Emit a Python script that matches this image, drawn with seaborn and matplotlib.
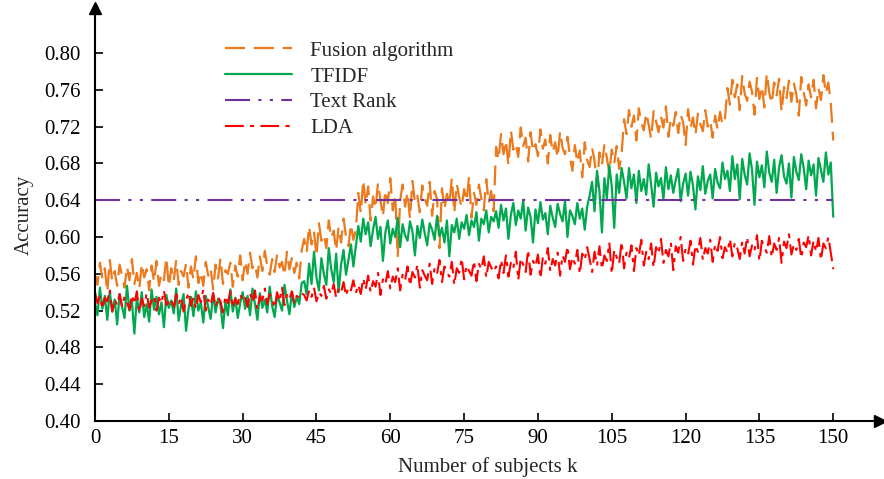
import numpy as np
import pandas as pd
import matplotlib
matplotlib.use("Agg")
import matplotlib.pyplot as plt
import seaborn as sns

# x positions: 0, 0.5, ..., 150 (number of subjects k)
k_values = [i / 2 for i in range(301)]

# accuracy values in thousandths
fusion_milli = [
    560, 548, 572, 555, 566, 540, 575, 552, 563, 547, 570, 558, 545, 568, 553, 576, 549, 561, 544, 571, 556, 565, 542, 569, 551, 574, 547, 560, 553, 578, 546,
    566, 552, 575, 548, 563, 557, 571, 545, 568, 554, 579, 550, 562, 547, 573, 558, 566, 543, 570, 555, 577, 549, 564, 560, 572, 546, 569, 557, 580, 553,
    574, 560, 583, 566, 571, 556, 579, 563, 585, 568, 559, 576, 562, 581, 567, 573, 558, 584, 565, 577, 561, 572, 555, 586,
    598, 583, 612, 592, 606, 579, 615, 596, 603, 588, 618, 599, 607, 585, 611, 594, 620, 601, 590, 614, 597, 608,
    648, 626, 662, 635, 655, 618, 644, 631, 659, 640, 622, 651, 637, 664, 629, 646, 578, 640, 657, 633, 649, 620, 661, 638, 645, 627, 656, 642, 634, 660, 623, 650, 641, 588, 653, 630, 647, 636, 664, 626, 658, 643, 632, 652, 639, 666, 621, 648, 635, 657, 642, 629, 663, 637, 650, 628,
    698, 684, 712, 690, 705, 678, 716, 695, 702, 687, 719, 699, 708, 682, 714, 693, 701, 688, 717, 696, 706, 680, 711, 692, 703, 686, 715, 697, 690, 709,
    688, 672, 700, 681, 694, 665, 703, 684, 676, 697, 683, 655, 692, 678, 701, 686, 670, 695, 680, 699, 674, 690,
    728, 712, 738, 720, 732, 705, 740, 724, 716, 735, 722, 707, 737, 726, 714, 731, 719, 742, 709, 729, 721, 736, 713, 733, 725, 700, 739, 718, 730, 711, 734, 723, 715, 738, 720, 727, 708, 732, 717, 736, 722, 729,
    762, 744, 771, 752, 766, 738, 775, 756, 748, 769, 758, 733, 773, 750, 764, 741, 778, 757, 745, 768, 754, 772, 736, 763, 751, 770, 747, 767, 755, 732, 774, 758, 743, 766, 752, 771, 740, 762, 749, 776, 756, 768, 745, 705,
]

tfidf_milli = [
    528, 515, 545, 522, 536, 510, 541, 519, 532, 505, 538, 524, 512, 547, 520, 530, 495, 534, 518, 540, 513, 527, 508, 543, 521, 535, 516, 529, 502, 537, 523,
    531, 517, 544, 509, 526, 538, 498, 522, 535, 514, 541, 520, 529, 507, 536, 524, 511, 539, 518, 533, 526, 501, 530, 515, 543, 519, 534, 512, 528, 540,
    522, 536, 515, 544, 527, 510, 539, 523, 532, 518, 546, 525, 513, 537, 529, 520, 548, 531, 516, 540, 524, 535, 527, 550,
    552, 538, 571, 549, 584, 556, 542, 577, 560, 548, 588, 565, 551, 582, 540, 570, 586, 559, 575, 592, 568, 590,
    612, 595, 620, 603, 616, 590, 608, 622, 598, 611, 574, 605, 618, 593, 609, 600, 621, 589, 614, 602, 596, 617, 606, 580, 612, 599, 619, 604, 591, 615, 608, 597, 623, 601, 610, 594, 618, 579, 613, 605, 620, 598, 616, 609, 624, 602, 618, 611, 627, 596, 620, 614, 629, 605, 622, 617,
    628, 610, 635, 618, 631, 598, 624, 637, 613, 629, 620, 640, 607, 632, 622, 594, 630, 615, 638, 619, 626, 603, 634, 621, 611, 636, 625, 617, 639, 600, 629, 623, 614, 637, 620, 631, 608, 633,
    645, 660, 628, 672, 650, 605, 664, 642, 678, 655, 610, 668, 648, 675,
    660, 642, 675, 653, 668, 637, 672, 650, 663, 646, 679, 657, 633, 670, 655, 664, 641, 676, 652, 667, 648, 662, 674, 639, 658, 669, 645, 671, 656, 630, 666, 651, 677, 647, 661, 668, 642, 674, 659, 653, 681, 663,
    672, 650, 688, 663, 679, 641, 685, 668, 657, 691, 673, 635, 682, 665, 678, 654, 693, 670, 660, 684, 648, 676, 689, 666, 658, 680, 643, 687, 671, 662, 690, 675, 652, 683, 667, 679, 645, 686, 673, 660, 692, 668, 681, 622,
]

textrank_milli = [640] * 301

lda_milli = [
    540, 528, 536, 522, 534, 530, 543, 519, 532, 526, 538, 524, 535, 529, 521, 537, 527, 541, 518, 533, 525, 539, 523, 531, 536, 520, 534, 528, 542, 526, 530,
    533, 521, 538, 527, 535, 519, 531, 540, 525, 534, 522, 537, 529, 543, 520, 532, 526, 539, 524, 535, 530, 518, 536, 528, 541, 523, 533, 527, 538, 531,
    535, 524, 539, 529, 542, 521, 536, 531, 544, 527, 538, 533, 523, 540, 530, 545, 526, 537, 532, 541, 528, 536, 534, 539,
    537, 531, 542, 535, 545, 530, 540, 536, 547, 533, 543, 538, 549, 534, 544, 540, 551, 536, 546, 542, 553, 539,
    548, 538, 555, 543, 558, 540, 552, 546, 561, 537, 554, 549, 563, 544, 557, 551, 566, 542, 559, 553, 568, 547, 562, 556, 570, 545, 564, 558, 553, 571, 549, 566, 560, 575, 551, 568, 562, 557, 573, 548, 566, 561, 577, 554, 569, 563, 558, 574, 552, 571, 565, 579, 556, 573, 567, 562,
    568, 555, 575, 561, 580, 557, 572, 566, 584, 553, 577, 570, 562, 586, 559, 574, 568, 581, 555, 578, 571, 588, 563, 576, 569, 583, 558, 580, 573, 590, 565, 578, 571, 586, 560, 582, 575, 589,
    576, 562, 584, 569, 590, 565, 580, 574, 594, 560, 586, 578, 571, 595, 566, 583, 577, 591, 563, 588, 580, 597, 569, 584, 576, 593, 567, 589, 582, 598, 572, 586, 579, 594, 564, 590, 583, 600, 574, 587, 581, 596, 570, 591, 584, 599, 575, 588, 582, 597, 573, 592, 585, 600, 577, 589, 583, 598, 579, 594,
    588, 576, 595, 582, 600, 579, 591, 585, 602, 574, 596, 589, 583, 601, 578, 593, 586, 599, 572, 595, 588, 603, 581, 592, 586, 598, 577, 594, 589, 602, 580, 596, 584, 599, 575, 593, 588, 600, 583, 565,
]

x_ticks = [0, 15, 30, 45, 60, 75, 90, 105, 120, 135, 150]
y_ticks = [0.40, 0.44, 0.48, 0.52, 0.56, 0.60, 0.64, 0.68, 0.72, 0.76, 0.80]

series = [
    ("Fusion algorithm", fusion_milli, "#EC7A1C", (0, (9, 4)), 1.6),
    ("TFIDF", tfidf_milli, "#00A84F", "-", 1.6),
    ("Text Rank", textrank_milli, "#7030A0", (0, (12, 4, 1.5, 4, 1.5, 4)), 1.5),
    ("LDA", lda_milli, "#FF0000", (0, (9, 3, 2, 3)), 1.5),
]

sns.set_style("ticks")
plt.rcParams["font.family"] = ["Liberation Serif", "DejaVu Serif"]

fig = plt.figure(figsize=(8.84, 4.79), dpi=100)
ax = fig.add_axes([95 / 884, 58 / 479, 785 / 884, 413 / 479])

for name, vals, color, ls, lw in series:
    df = pd.DataFrame({"k": k_values, "acc": [v / 1000 for v in vals]})
    sns.lineplot(data=df, x="k", y="acc", color=color, linestyle=ls,
                 linewidth=lw, label=name, ax=ax)

ax.set_xlim(0, 159.5)
ax.set_ylim(0.40, 0.849)
ax.set_xticks(x_ticks)
ax.set_xticklabels([str(t) for t in x_ticks])
ax.set_yticks(y_ticks)
ax.set_yticklabels([f"{t:.2f}" for t in y_ticks])
ax.tick_params(direction="in", length=6, width=1.2, labelsize=15, colors="black")
ax.tick_params(axis="x", pad=6)
ax.tick_params(axis="y", pad=10)

for s in ["top", "right"]:
    ax.spines[s].set_visible(False)
for s in ["left", "bottom"]:
    ax.spines[s].set_linewidth(1.5)
    ax.spines[s].set_color("black")

ax.plot(1, 0, ">k", transform=ax.transAxes, clip_on=False, markersize=8)
ax.plot(0, 1, "^k", transform=ax.transAxes, clip_on=False, markersize=8)

ax.set_xlabel("Number of subjects k", fontsize=15, labelpad=6)
ax.set_ylabel("Accuracy", fontsize=15, labelpad=8)

leg = ax.legend(loc="upper left", bbox_to_anchor=(0.155, 0.94), frameon=False,
                fontsize=15, handlelength=3.2, handletextpad=0.9,
                labelspacing=0.3, borderaxespad=0)

fig.savefig("out.png", dpi=100)
